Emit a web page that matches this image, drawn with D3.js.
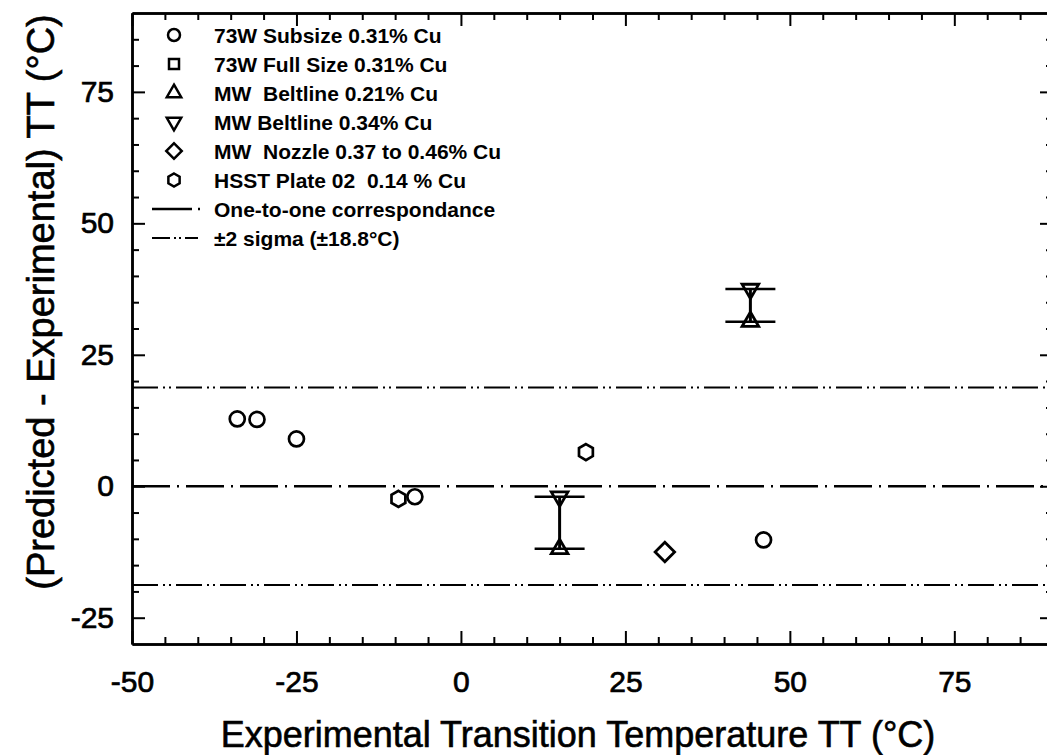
<!DOCTYPE html>
<html>
<head>
<meta charset="utf-8">
<script src="https://cdn.jsdelivr.net/npm/d3@7"></script>
<style>
  body { margin: 0; background: #fff; }
  svg { font-family: "Liberation Sans", Arial, sans-serif; }
</style>
</head>
<body>
<div id="chart"></div>
<script>
// data
var subsizeX = [-34, -31, -25, -7, 46];
var subsizeY = [12.8, 12.7, 9.0, -2.0, -10.2];
var fullsizeX = [];
var fullsizeY = [];
var belt021X = [15, 44];
var belt021Y = [-11.9, 31.3];
var belt034X = [15, 44];
var belt034Y = [-2.0, 37.5];
var nozzleX = [31];
var nozzleY = [-12.5];
var hsstX = [-9.5, 19];
var hsstY = [-2.4, 6.5];
var sigma = 18.8;

var xMajor = [-50, -25, 0, 25, 50, 75];
var yMajor = [-25, 0, 25, 50, 75];

var legendLabels = [
  "73W Subsize 0.31% Cu",
  "73W Full Size 0.31% Cu",
  "MW  Beltline 0.21% Cu",
  "MW Beltline 0.34% Cu",
  "MW  Nozzle 0.37 to 0.46% Cu",
  "HSST Plate 02  0.14 % Cu",
  "One-to-one correspondance",
  "\u00b12 sigma (\u00b118.8\u00b0C)"
];

var width = 1047, height = 755;

var x = d3.scaleLinear().domain([-50, 90]).range([132, 1053]);
var y = d3.scaleLinear().domain([-30, 90]).range([644, 13]);

var svg = d3.select("#chart").append("svg")
  .attr("width", width)
  .attr("height", height);

var xMinor = d3.range(-45, 90, 5).filter(function(d) { return d % 25 != 0; });
var yMinor = d3.range(-25, 90, 5).filter(function(d) { return d % 25 != 0; });

// axes: major ticks with labels, minor ticks without, all pointing inward
function axisGroup(axisFn, scale, pos, major, minor, labels) {
  var g = svg.append("g").attr("transform", pos);
  g.call(axisFn(scale).tickValues(minor).tickSize(-7).tickSizeOuter(0).tickFormat(""));
  var gm = svg.append("g").attr("transform", pos);
  gm.call(axisFn(scale).tickValues(major).tickSize(-13).tickSizeOuter(0)
    .tickPadding(axisFn == d3.axisBottom ? 27 : 18)
    .tickFormat(labels ? function(d) { return String(d); } : ""));
  [g, gm].forEach(function(s) {
    s.selectAll("path").attr("stroke", "#000").attr("stroke-width", 2.5);
    s.selectAll("line").attr("stroke", "#000").attr("stroke-width", 2);
    s.selectAll("text").attr("fill", "#000")
      .attr("stroke", "#000").attr("stroke-width", 0.7)
      .style("font-size", "30px");
  });
}

axisGroup(d3.axisBottom, x, "translate(0," + y(-30) + ")", xMajor, xMinor, true);
axisGroup(d3.axisTop, x, "translate(0," + y(90) + ")", xMajor, xMinor, false);
axisGroup(d3.axisLeft, y, "translate(" + x(-50) + ",0)", yMajor, yMinor, true);
axisGroup(d3.axisRight, y, "translate(" + x(90) + ",0)", yMajor, yMinor, false);

// reference lines
svg.append("line")
  .attr("x1", x(-50)).attr("x2", x(90))
  .attr("y1", y(0)).attr("y2", y(0))
  .attr("stroke", "#000").attr("stroke-width", 2.5)
  .attr("stroke-dasharray", "38,7,2,7");

[sigma, -sigma].forEach(function(s) {
  svg.append("line")
    .attr("x1", x(-50)).attr("x2", x(90))
    .attr("y1", y(s)).attr("y2", y(s))
    .attr("stroke", "#000").attr("stroke-width", 2)
    .attr("stroke-dasharray", "26,5,2,4,2,5");
});

function pts(xs, ys) {
  return xs.map(function(d, i) { return { x: d, y: ys[i] }; });
}

function hexPath(cx, cy, r) {
  var p = d3.range(6).map(function(i) {
    var a = Math.PI / 3 * i - Math.PI / 2;
    return [cx + r * Math.cos(a), cy + r * Math.sin(a)];
  });
  return d3.line()(p) + "Z";
}

var symTri = d3.symbol().type(d3.symbolTriangle).size(120);
var symSq = d3.symbol().type(d3.symbolSquare).size(120);
var symDia = d3.symbol().type(d3.symbolSquare).size(190);

// circles
svg.selectAll(".sub").data(pts(subsizeX, subsizeY)).enter().append("circle")
  .attr("cx", function(d) { return x(d.x); })
  .attr("cy", function(d) { return y(d.y); })
  .attr("r", 7.5)
  .attr("fill", "none").attr("stroke", "#000").attr("stroke-width", 2.7);

svg.selectAll(".full").data(pts(fullsizeX, fullsizeY)).enter().append("path")
  .attr("d", symSq)
  .attr("transform", function(d) { return "translate(" + x(d.x) + "," + y(d.y) + ")"; })
  .attr("fill", "none").attr("stroke", "#000").attr("stroke-width", 2.5);

svg.selectAll(".hsst").data(pts(hsstX, hsstY)).enter().append("path")
  .attr("d", function(d) { return hexPath(x(d.x), y(d.y), 8); })
  .attr("fill", "none").attr("stroke", "#000").attr("stroke-width", 2.7);

svg.selectAll(".noz").data(pts(nozzleX, nozzleY)).enter().append("path")
  .attr("d", symDia)
  .attr("transform", function(d) { return "translate(" + x(d.x) + "," + y(d.y) + ") rotate(45)"; })
  .attr("fill", "none").attr("stroke", "#000").attr("stroke-width", 2.8);

// beltline triangles
svg.selectAll(".b21").data(pts(belt021X, belt021Y)).enter().append("path")
  .attr("d", symTri)
  .attr("transform", function(d) { return "translate(" + x(d.x) + "," + y(d.y) + ")"; })
  .attr("fill", "#fff").attr("stroke", "#000").attr("stroke-width", 2.8);

svg.selectAll(".b34").data(pts(belt034X, belt034Y)).enter().append("path")
  .attr("d", symTri)
  .attr("transform", function(d) { return "translate(" + x(d.x) + "," + y(d.y) + ") rotate(180)"; })
  .attr("fill", "#fff").attr("stroke", "#000").attr("stroke-width", 2.8);

// range bars between the two beltline welds
var bars = belt021X.map(function(d, i) {
  return { x: d, lo: belt021Y[i], hi: belt034Y[i] };
});
var bg = svg.selectAll(".bar").data(bars).enter().append("g")
  .attr("stroke", "#000");
bg.append("line")
  .attr("x1", function(d) { return x(d.x); }).attr("x2", function(d) { return x(d.x); })
  .attr("y1", function(d) { return y(d.lo); }).attr("y2", function(d) { return y(d.hi); })
  .attr("stroke-width", 3);
["lo", "hi"].forEach(function(k) {
  bg.append("line")
    .attr("x1", function(d) { return x(d.x) - 25; }).attr("x2", function(d) { return x(d.x) + 25; })
    .attr("y1", function(d) { return y(d[k]); }).attr("y2", function(d) { return y(d[k]); })
    .attr("stroke-width", 2.5);
});

// legend
var lg = svg.append("g");
var ly = function(i) { return 35 + i * 29; };
var lx = 174;
lg.append("circle").attr("cx", lx).attr("cy", ly(0)).attr("r", 6)
  .attr("fill", "none").attr("stroke", "#000").attr("stroke-width", 2.5);
lg.append("path").attr("d", d3.symbol().type(d3.symbolSquare).size(100))
  .attr("transform", "translate(" + lx + "," + ly(1) + ")")
  .attr("fill", "none").attr("stroke", "#000").attr("stroke-width", 2.5);
lg.append("path").attr("d", d3.symbol().type(d3.symbolTriangle).size(90))
  .attr("transform", "translate(" + lx + "," + ly(2) + ")")
  .attr("fill", "none").attr("stroke", "#000").attr("stroke-width", 2.5);
lg.append("path").attr("d", d3.symbol().type(d3.symbolTriangle).size(90))
  .attr("transform", "translate(" + lx + "," + ly(3) + ") rotate(180)")
  .attr("fill", "none").attr("stroke", "#000").attr("stroke-width", 2.5);
lg.append("path").attr("d", d3.symbol().type(d3.symbolSquare).size(120))
  .attr("transform", "translate(" + lx + "," + ly(4) + ") rotate(45)")
  .attr("fill", "none").attr("stroke", "#000").attr("stroke-width", 2.5);
lg.append("path").attr("d", hexPath(lx, ly(5), 6.5))
  .attr("fill", "none").attr("stroke", "#000").attr("stroke-width", 2.5);
lg.append("line").attr("x1", 152).attr("x2", 200).attr("y1", ly(6)).attr("y2", ly(6))
  .attr("stroke", "#000").attr("stroke-width", 2.5).attr("stroke-dasharray", "40,6,2,10");
lg.append("line").attr("x1", 152).attr("x2", 198).attr("y1", ly(7)).attr("y2", ly(7))
  .attr("stroke", "#000").attr("stroke-width", 2).attr("stroke-dasharray", "18,4,2,3,2,4");

lg.selectAll("text").data(legendLabels).enter().append("text")
  .attr("x", 214)
  .attr("y", function(d, i) { return ly(i); })
  .attr("dy", "0.36em")
  .style("font-size", "21px")
  .style("font-weight", "bold")
  .style("white-space", "pre")
  .attr("xml:space", "preserve")
  .text(function(d) { return d; });

// axis titles
svg.append("text")
  .attr("x", 578).attr("y", 747)
  .attr("text-anchor", "middle")
  .attr("stroke", "#000").attr("stroke-width", 0.6)
  .style("font-size", "36px")
  .text("Experimental Transition Temperature TT (\u00b0C)");

svg.append("text")
  .attr("transform", "translate(54,302) rotate(-90)")
  .attr("text-anchor", "middle")
  .attr("stroke", "#000").attr("stroke-width", 0.6)
  .style("font-size", "38px")
  .text("(Predicted - Experimental) TT (\u00b0C)");
</script>
</body>
</html>
